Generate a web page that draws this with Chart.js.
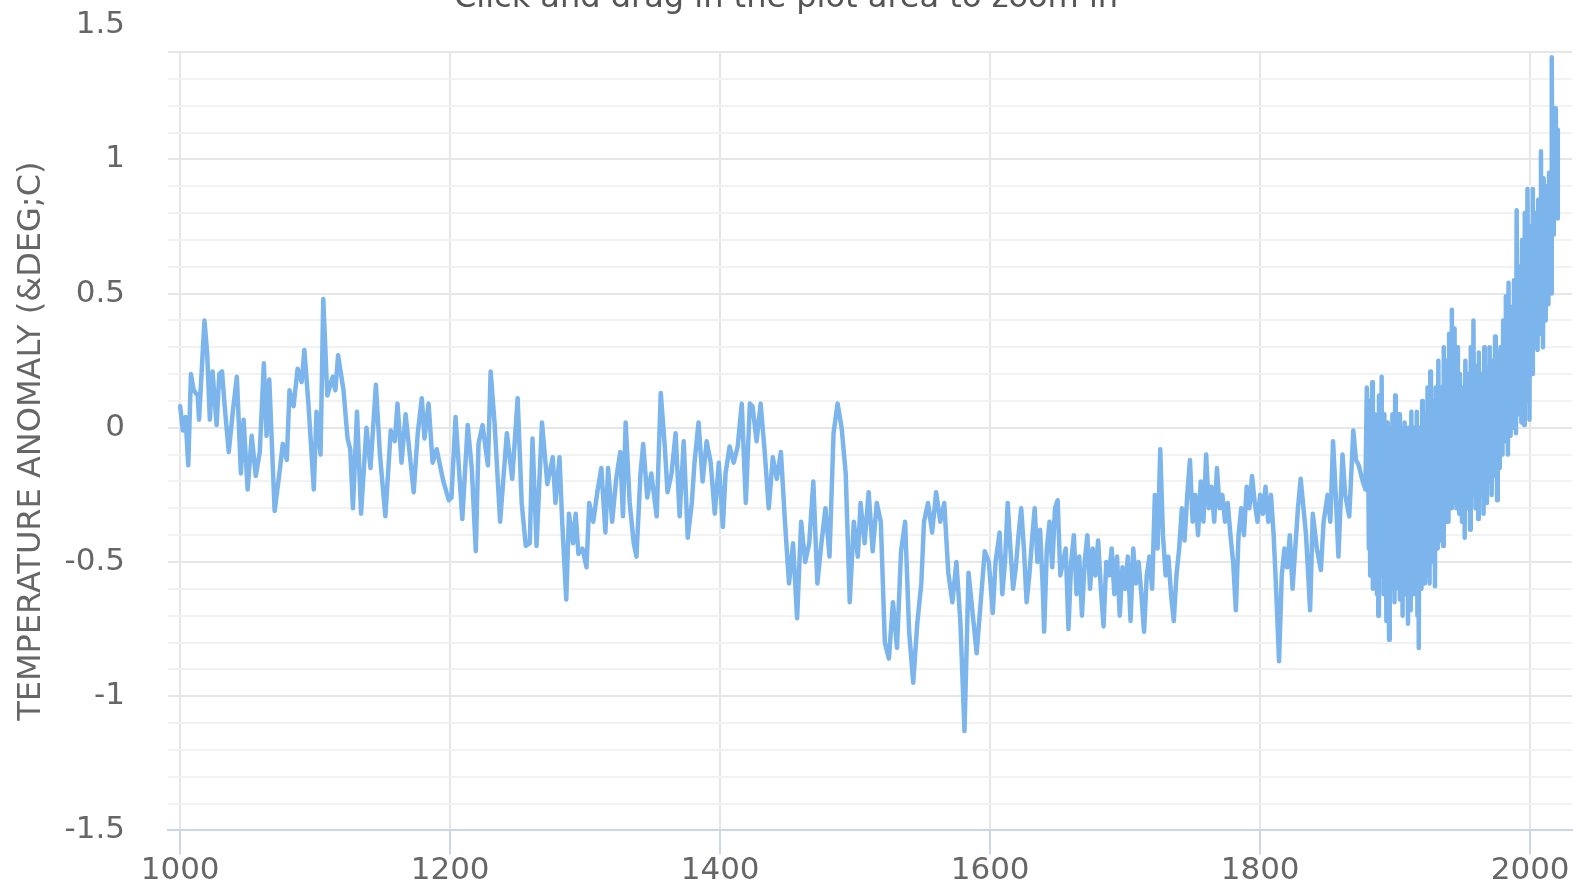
<!DOCTYPE html>
<html>
<head>
<meta charset="utf-8">
<script src="https://cdn.jsdelivr.net/npm/chart.js@4.4.1/dist/chart.umd.min.js"></script>
<style>
  html, body { margin: 0; padding: 0; overflow: hidden; background: #fff; }
  #wrap { position: absolute; left: 0; top: -30px; width: 1577px; height: 922px; }
</style>
</head>
<body>
<div id="wrap"><canvas id="canvas"></canvas></div>
<script>
// reconstruction, 1000 - 1879
const proxyYears = [
  1000,1002,1004,1006,1008,1010,1013,1014,1018,1020,
  1022,1024,1027,1029,1031,1033,1036,1039,1042,1045,
  1047,1050,1053,1056,1059,1062,1064,1066,1070,1074,
  1076,1079,1081,1084,1087,1090,1092,1095,1099,1101,
  1104,1106,1109,1113,1115,1117,1121,1124,1126,1128,
  1131,1134,1138,1141,1145,1148,1152,1156,1159,1161,
  1164,1167,1173,1176,1179,1181,1184,1187,1190,1195,
  1199,1201,1204,1209,1213,1216,1219,1221,1224,1228,
  1230,1233,1237,1242,1246,1250,1253,1256,1259,1261,
  1264,1268,1272,
  1276,1278,1281,1283,1286,1288,1291,1293,1295,1298,
  1301,1303,1306,1309,1312,1315,1317,1320,1323,1326,
  1328,1330,1333,1336,1338,1341,1343,1346,1349,1353,
  1356,1359,1361,1364,1367,1370,1373,1376,1379,1381,
  1384,1387,1390,1393,1396,1399,1402,1404,1407,1410,
  1413,1416,1419,1422,1424,1427,1430,1433,1436,1439,
  1442,1445,1448,1451,1454,1457,1460,1463,1466,1469,
  1472,1475,1478,1481,1484,1487,1490,1493,1496,1499,
  1502,1504,1507,1510,1513,1516,1519,1522,1525,1528,
  1531,1534,1537,1540,1543,1546,1549,1551,1554,1557,
  1560,1563,1566,1569,1572,1575,1578,1581,1584,1587,
  1590,1593,1596,1599,
  1602,1604,1607,1609,1611,1613,1615,1617,1619,1621,
  1623,1625,1627,1629,1631,1633,1635,1637,1639,1640,
  1642,1644,1646,1648,1650,1652,1656,1658,1660,1662,
  1664,1666,1668,1670,1672,1674,1676,1678,1680,1682,
  1684,1686,1688,1690,1692,1694,1696,1698,1700,1702,
  1704,1706,1708,1710,1712,1714,1716,1718,1720,1722,
  1724,1726,1728,1730,1732,1734,1736,1738,1740,1742,
  1744,1746,1748,1750,1752,1754,1756,1758,1760,1762,
  1764,1766,1768,1770,1772,1774,1776,1778,1780,1782,
  1784,1786,1788,1790,1792,1794,1796,1798,1800,1802,
  1804,1806,1808,1810,1812,1814,1816,1818,1820,1822,
  1824,1826,1828,1830,1834,
  1837,1839,1842,1845,1847,1850,1852,1854,1856,1858,
  1861,1863,1866,1869,1871,1873,1876,1878,1879
];
const proxyValues = [
  0.08,-0.01,0.04,-0.14,0.20,0.14,0.12,0.03,0.40,0.28,
  0.03,0.21,0.01,0.20,0.21,0.08,-0.09,0.06,0.19,-0.17,
  0.03,-0.23,-0.03,-0.18,-0.09,0.24,-0.03,0.18,-0.31,-0.15,
  -0.06,-0.12,0.14,0.08,0.22,0.17,0.29,0.09,-0.23,0.06,
  -0.10,0.48,0.12,0.19,0.14,0.27,0.14,-0.04,-0.08,-0.30,
  0.06,-0.32,0.00,-0.15,0.16,-0.10,-0.33,-0.01,-0.05,0.09,
  -0.13,0.05,-0.24,-0.02,0.11,-0.04,0.09,-0.13,-0.08,-0.20,
  -0.27,-0.26,0.04,-0.34,0.01,-0.15,-0.46,-0.06,0.01,-0.14,
  0.21,0.01,-0.35,-0.02,-0.19,0.11,-0.28,-0.44,-0.43,-0.04,
  -0.44,0.02,-0.21,
  -0.11,-0.28,-0.11,-0.35,-0.64,-0.32,-0.43,-0.32,-0.47,-0.45,
  -0.52,-0.28,-0.35,-0.24,-0.15,-0.39,-0.15,-0.35,-0.19,-0.09,
  -0.33,0.02,-0.28,-0.43,-0.48,-0.17,-0.06,-0.26,-0.17,-0.33,
  0.13,-0.07,-0.24,-0.17,-0.02,-0.33,-0.05,-0.41,-0.28,-0.13,
  0.02,-0.20,-0.05,-0.13,-0.32,-0.13,-0.37,-0.17,-0.07,-0.13,
  -0.07,0.09,-0.28,0.09,0.08,-0.05,0.09,-0.09,-0.30,-0.11,
  -0.19,-0.09,-0.35,-0.58,-0.43,-0.71,-0.35,-0.50,-0.43,-0.20,
  -0.58,-0.43,-0.30,-0.48,-0.02,0.09,0.00,-0.17,-0.65,-0.35,
  -0.48,-0.28,-0.43,-0.24,-0.46,-0.28,-0.35,-0.80,-0.86,-0.65,
  -0.82,-0.46,-0.35,-0.76,-0.95,-0.73,-0.58,-0.35,-0.28,-0.39,
  -0.24,-0.35,-0.28,-0.54,-0.65,-0.50,-0.73,-1.13,-0.54,-0.69,
  -0.84,-0.65,-0.46,-0.50,
  -0.69,-0.50,-0.39,-0.62,-0.50,-0.28,-0.45,-0.60,-0.52,-0.40,
  -0.30,-0.45,-0.65,-0.55,-0.42,-0.30,-0.50,-0.38,-0.60,-0.76,
  -0.45,-0.35,-0.52,-0.30,-0.27,-0.55,-0.45,-0.75,-0.50,-0.40,
  -0.62,-0.48,-0.70,-0.50,-0.40,-0.60,-0.45,-0.55,-0.42,-0.60,
  -0.74,-0.50,-0.55,-0.45,-0.62,-0.48,-0.70,-0.52,-0.60,-0.48,
  -0.72,-0.45,-0.58,-0.50,-0.62,-0.76,-0.55,-0.48,-0.60,-0.25,
  -0.45,-0.08,-0.40,-0.55,-0.48,-0.62,-0.72,-0.55,-0.45,-0.30,
  -0.42,-0.25,-0.12,-0.35,-0.25,-0.40,-0.20,-0.35,-0.10,-0.30,
  -0.22,-0.35,-0.15,-0.30,-0.25,-0.35,-0.28,-0.40,-0.50,-0.68,
  -0.40,-0.30,-0.40,-0.22,-0.30,-0.18,-0.28,-0.35,-0.25,-0.32,
  -0.22,-0.35,-0.25,-0.40,-0.62,-0.87,-0.55,-0.45,-0.52,-0.40,
  -0.60,-0.45,-0.30,-0.19,-0.40,
  -0.68,-0.32,-0.45,-0.53,-0.35,-0.25,-0.35,-0.05,-0.25,-0.48,
  -0.10,-0.25,-0.33,-0.01,-0.12,-0.14,-0.20,-0.23,0.15
];

// instrumental period, 1880 - 2020, half-year steps (dense band)
const instYears = [
  1880,1880.5,1881,1881.5,1882,1882.5,1883,1883.5,1884,1884.5,1885,1885.5,1886,1886.5,1887,1887.5,1888,1888.5,1889,1889.5,
  1890,1890.5,1891,1891.5,1892,1892.5,1893,1893.5,1894,1894.5,1895,1895.5,1896,1896.5,1897,1897.5,1898,1898.5,1899,1899.5,
  1900,1900.5,1901,1901.5,1902,1902.5,1903,1903.5,1904,1904.5,1905,1905.5,1906,1906.5,1907,1907.5,1908,1908.5,1909,1909.5,
  1910,1910.5,1911,1911.5,1912,1912.5,1913,1913.5,1914,1914.5,1915,1915.5,1916,1916.5,1917,1917.5,1918,1918.5,1919,1919.5,
  1920,1920.5,1921,1921.5,1922,1922.5,1923,1923.5,1924,1924.5,1925,1925.5,1926,1926.5,1927,1927.5,1928,1928.5,1929,1929.5,
  1930,1930.5,1931,1931.5,1932,1932.5,1933,1933.5,1934,1934.5,1935,1935.5,1936,1936.5,1937,1937.5,1938,1938.5,1939,1939.5,
  1940,1940.5,1941,1941.5,1942,1942.5,1943,1943.5,1944,1944.5,1945,1945.5,1946,1946.5,1947,1947.5,1948,1948.5,1949,1949.5,
  1950,1950.5,1951,1951.5,1952,1952.5,1953,1953.5,1954,1954.5,1955,1955.5,1956,1956.5,1957,1957.5,1958,1958.5,1959,1959.5,
  1960,1960.5,1961,1961.5,1962,1962.5,1963,1963.5,1964,1964.5,1965,1965.5,1966,1966.5,1967,1967.5,1968,1968.5,1969,1969.5,
  1970,1970.5,1971,1971.5,1972,1972.5,1973,1973.5,1974,1974.5,1975,1975.5,1976,1976.5,1977,1977.5,1978,1978.5,1979,1979.5,
  1980,1980.5,1981,1981.5,1982,1982.5,1983,1983.5,1984,1984.5,1985,1985.5,1986,1986.5,1987,1987.5,1988,1988.5,1989,1989.5,
  1990,1990.5,1991,1991.5,1992,1992.5,1993,1993.5,1994,1994.5,1995,1995.5,1996,1996.5,1997,1997.5,1998,1998.5,1999,1999.5,
  2000,2000.5,2001,2001.5,2002,2002.5,2003,2003.5,2004,2004.5,2005,2005.5,2006,2006.5,2007,2007.5,2008,2008.5,2009,2009.5,
  2010,2010.5,2011,2011.5,2012,2012.5,2013,2013.5,2014,2014.5,2015,2015.5,2016,2016.5,2017,2017.5,2018,2018.5,2019,2019.5,
  2020,2020.5
];
const instValues = [
  -0.05,-0.45,0.10,-0.55,-0.10,-0.40,0.17,-0.60,-0.05,-0.50,0.05,-0.35,-0.15,-0.62,0.00,-0.70,0.12,-0.45,-0.10,-0.55,
  0.19,-0.40,-0.05,-0.62,0.05,-0.50,-0.10,-0.72,0.02,-0.55,-0.15,-0.79,0.00,-0.45,-0.10,-0.60,0.05,-0.50,-0.05,-0.65,
  0.12,-0.40,0.00,-0.55,-0.10,-0.60,0.05,-0.64,-0.15,-0.50,0.00,-0.70,-0.10,-0.45,0.02,-0.62,-0.15,-0.55,-0.05,-0.73,
  0.00,-0.60,-0.10,-0.68,0.06,-0.50,-0.05,-0.62,0.00,-0.45,-0.10,-0.58,0.06,-0.70,-0.05,-0.82,0.00,-0.55,-0.10,-0.60,
  0.10,-0.45,-0.05,-0.58,0.05,-0.50,-0.05,-0.55,0.15,-0.40,0.00,-0.58,0.21,-0.35,0.05,-0.50,0.10,-0.45,-0.05,-0.59,
  0.15,-0.35,0.05,-0.45,0.25,-0.30,0.10,-0.42,0.15,-0.30,0.05,-0.44,0.30,-0.25,0.15,-0.35,0.25,-0.20,0.10,-0.35,
  0.35,-0.15,0.20,-0.30,0.44,-0.10,0.25,-0.28,0.37,-0.15,0.15,-0.30,0.30,-0.20,0.20,-0.32,0.20,-0.25,0.10,-0.35,
  0.15,-0.30,0.05,-0.41,0.25,-0.20,0.10,-0.30,0.20,-0.25,0.05,-0.38,0.30,-0.15,0.15,-0.25,0.40,-0.10,0.20,-0.30,
  0.23,-0.20,0.10,-0.34,0.28,-0.15,0.15,-0.25,0.20,-0.20,0.05,-0.32,0.30,-0.15,0.10,-0.28,0.22,-0.15,0.15,-0.20,
  0.30,-0.10,0.10,-0.25,0.25,-0.12,0.20,-0.18,0.34,-0.05,0.15,-0.27,0.28,-0.05,0.20,-0.15,0.30,0.00,0.25,-0.10,
  0.40,0.05,0.30,-0.05,0.49,0.10,0.35,-0.10,0.54,0.10,0.40,-0.03,0.45,0.10,0.35,0.00,0.55,0.15,0.45,-0.02,
  0.81,0.20,0.55,0.05,0.60,0.15,0.50,0.02,0.70,0.20,0.55,0.01,0.80,0.25,0.65,0.10,0.89,0.30,0.70,0.03,
  0.75,0.25,0.65,0.20,0.89,0.35,0.75,0.30,0.80,0.40,0.70,0.29,0.85,0.40,0.80,0.35,1.03,0.45,0.85,0.30,
  0.93,0.45,0.80,0.40,0.90,0.50,0.85,0.46,0.95,0.55,0.90,0.50,1.38,0.75,1.19,0.72,1.10,0.80,1.19,0.85,
  1.11,0.78
];

const xTicks = [1000, 1200, 1400, 1600, 1800, 2000];
const yTicks = [-1.5,-1.4,-1.3,-1.2,-1.1,-1,-0.9,-0.8,-0.7,-0.6,
  -0.5,-0.4,-0.3,-0.2,-0.1,0,0.1,0.2,0.3,0.4,
  0.5,0.6,0.7,0.8,0.9,1,1.1,1.2,1.3,1.4,1.5];
const yLabelled = [-1.5, -1, -0.5, 0, 0.5, 1, 1.5];

const years = proxyYears.concat(instYears);
const anomaly = proxyValues.concat(instValues);
const points = years.map((yr, i) => ({ x: yr, y: anomaly[i] }));

Chart.defaults.font.family = 'DejaVu Sans';
Chart.defaults.color = '#666666';

const canvas = document.getElementById('canvas');
const chart = new Chart(canvas, {
  type: 'line',
  data: {
    datasets: [{
      label: 'Temperature anomaly',
      data: points,
      borderColor: '#7cb5ec',
      backgroundColor: '#7cb5ec',
      borderWidth: 4.5,
      pointRadius: 0,
      tension: 0,
      fill: false,
      borderJoinStyle: 'round',
      borderCapStyle: 'round'
    }]
  },
  options: {
    responsive: true,
    maintainAspectRatio: false,
    animation: false,
    devicePixelRatio: 1,
    layout: { padding: { left: 0, right: 5, top: 0, bottom: 2 } },
    plugins: {
      legend: { display: false },
      tooltip: { enabled: false },
      title: {
        display: true,
        text: 'Click and drag in the plot area to zoom in',
        color: '#555555',
        font: { size: 32, weight: 'normal' },
        padding: { top: 9, bottom: 34.6 }
      }
    },
    scales: {
      x: {
        type: 'linear',
        min: 991,
        max: 2031,
        afterBuildTicks: (scale) => { scale.ticks = xTicks.map(v => ({ value: v })); },
        afterFit: (scale) => { scale.paddingLeft = 0; scale.paddingRight = 0; },
        ticks: {
          callback: (v) => String(v),
          font: { size: 31, lineHeight: 1 },
          color: '#666666',
          padding: 1,
          maxRotation: 0,
          autoSkip: false
        },
        grid: {
          color: '#e6e6e6',
          lineWidth: 2,
          tickColor: '#ccd6eb',
          tickLength: 24,
          tickWidth: 2
        },
        border: { color: '#ccd6eb', width: 2 }
      },
      y: {
        type: 'linear',
        min: -1.5,
        max: 1.4,
        afterBuildTicks: (scale) => { scale.ticks = yTicks.map(v => ({ value: v })); },
        afterFit: (scale) => { scale.width = 168; },
        ticks: {
          callback: (v) => yLabelled.includes(v) ? String(v) : '',
          font: { size: 31, lineHeight: 1.2 },
          color: '#666666',
          padding: 43,
          autoSkip: false
        },
        grid: {
          drawTicks: false,
          lineWidth: 2,
          color: (ctx) => {
            const v = ctx.tick ? ctx.tick.value : null;
            if (v === 1.5) return 'rgba(0,0,0,0)';
            if (v === -1.5) return '#ccd6eb';
            if (v === 1.4) return '#e6e6e6';
            return yLabelled.includes(v) ? '#e6e6e6' : '#f2f2f2';
          }
        },
        border: { display: false },
        title: {
          display: true,
          text: 'TEMPERATURE ANOMALY (&DEG;C)',
          color: '#666666',
          font: { size: 32 },
          padding: { top: 12, bottom: 15 }
        }
      }
    }
  }
});
</script>
</body>
</html>
